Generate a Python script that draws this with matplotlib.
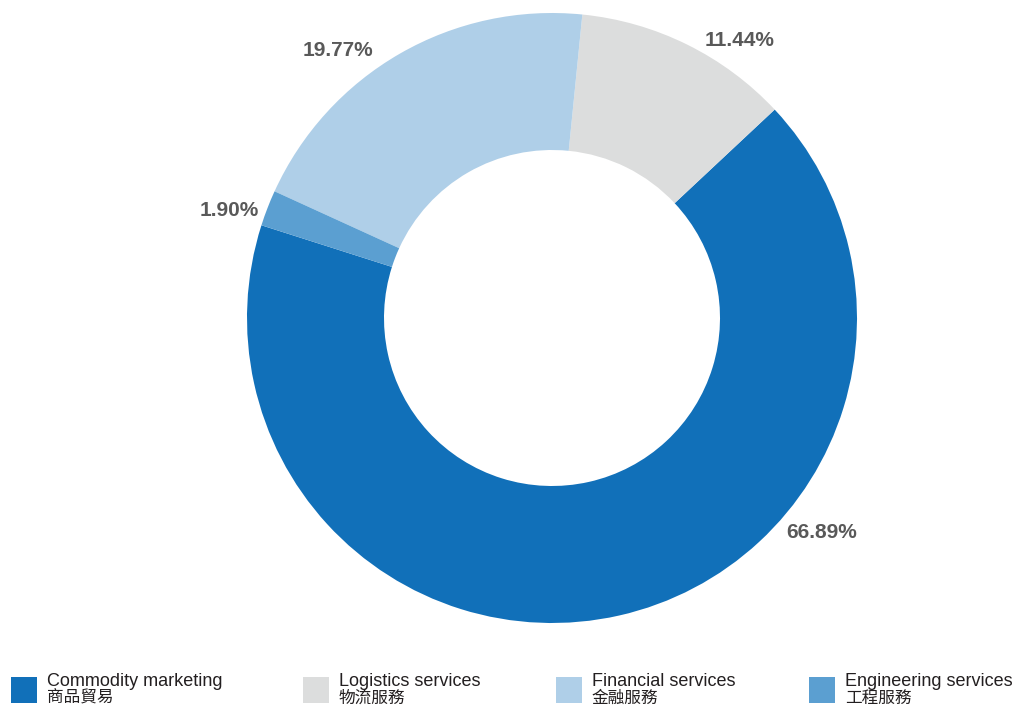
import matplotlib
matplotlib.use("Agg")
import matplotlib.pyplot as plt
from matplotlib.patches import Rectangle

# Business segment shares (%)
segments_en = ["Commodity marketing", "Logistics services", "Financial services", "Engineering services"]
segments_zh = ["商品貿易", "物流服務", "金融服務", "工程服務"]
shares = [66.89, 11.44, 19.77, 1.90]
colors = ["#1170b9", "#dcdddd", "#afcfe8", "#5b9fd1"]

W, H = 1014, 706
fig = plt.figure(figsize=(W / 100, H / 100), dpi=100)
ax = fig.add_axes([0, 0, 1, 1])

cx, cy = 552, H - 318
r_out, ring = 305, 137

ax.pie(shares, colors=colors, startangle=162.3, counterclock=True,
       center=(cx, cy), radius=r_out,
       wedgeprops=dict(width=ring, linewidth=0), frame=True)
ax.set_xlim(0, W)
ax.set_ylim(0, H)
ax.axis("off")

# Percentage labels
label_pos = [(822, 532), (740, 40), (338, 50), (229, 210)]
for val, (px, py) in zip(shares, label_pos):
    ax.text(px, H - py, f"{val:.2f}%", ha="center", va="center",
            fontsize=15, fontweight="bold", color="#595959",
            family="Liberation Sans")

# Legend
sq_x = [11, 303, 556, 809]
for x, en, zh, c in zip(sq_x, segments_en, segments_zh, colors):
    ax.add_patch(Rectangle((x, H - 703), 26, 26, facecolor=c, edgecolor="none"))
    ax.text(x + 36, H - 686, en, ha="left", va="baseline", fontsize=13,
            color="#231f20", family="Liberation Sans")
    ax.text(x + 36, H - 702.5, zh, ha="left", va="baseline", fontsize=12,
            color="#231f20", family=["Noto Sans CJK TC", "DejaVu Sans"])

fig.savefig("out.png", dpi=100)
